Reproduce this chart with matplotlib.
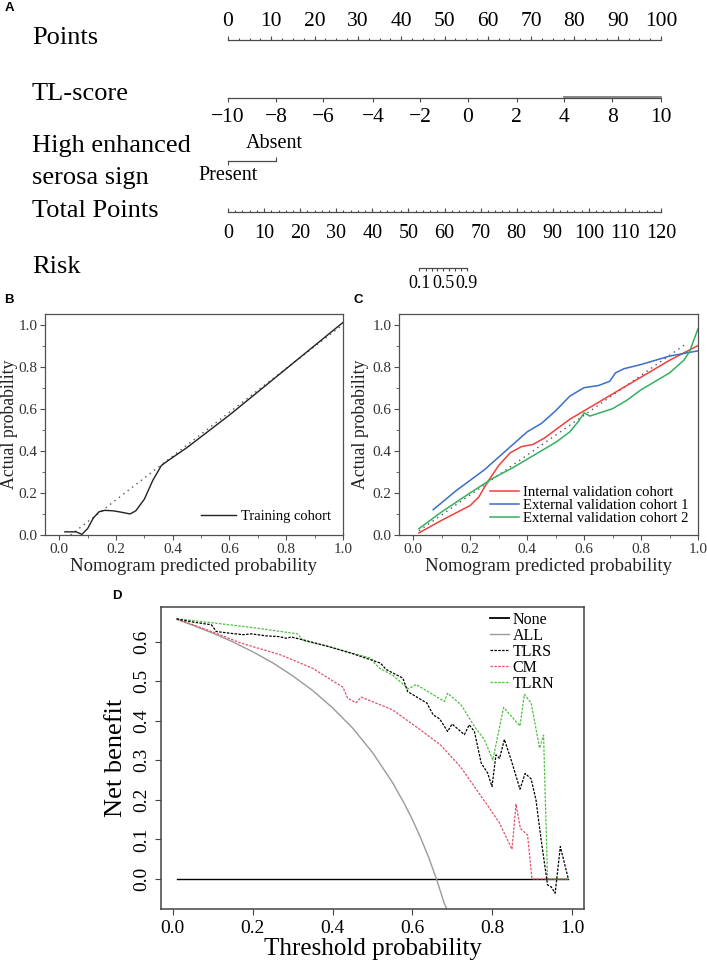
import matplotlib
matplotlib.use("Agg")
import matplotlib.pyplot as plt
import numpy as np
from matplotlib.lines import Line2D

plt.rcParams['font.family'] = ['Liberation Serif', 'DejaVu Serif']

W, H = 707, 965

# ---- nomogram (panel A) ----
points_ticks = list(range(0, 101, 10))
tl_values = ['\u221210', '\u22128', '\u22126', '\u22124', '\u22122', '0', '2', '4', '8', '10']
tl_points = [0, 11.1, 21.9, 33.5, 44.3, 55.4, 66.7, 77.6, 88.7, 100]
serosa_levels = ['Present', 'Absent']
serosa_points = [0, 11.1]
total_ticks = list(range(0, 121, 10))
risk_values = [0.1, 0.2, 0.3, 0.4, 0.5, 0.6, 0.7, 0.8, 0.9]
risk_total = [53.0, 54.9, 56.5, 58.0, 59.7, 61.3, 62.9, 64.6, 66.2]
risk_shown = ['0.1', '0.5', '0.9']

# ---- calibration (panel B) ----
train_x = [0.02, 0.06, 0.08, 0.10, 0.12, 0.14, 0.16, 0.19, 0.22, 0.25, 0.27, 0.30, 0.33, 0.36, 0.38, 0.45, 0.6, 0.8, 1.0]
train_y = [0.015, 0.015, 0.003, 0.03, 0.08, 0.11, 0.117, 0.115, 0.108, 0.10, 0.115, 0.17, 0.26, 0.33, 0.35, 0.415, 0.57, 0.79, 1.01]
ideal_b_x = [0.04, 1.0]
ideal_b_y = [0.0, 1.0]

# ---- calibration (panel C) ----
int_x = [0.02, 0.10, 0.20, 0.23, 0.26, 0.30, 0.34, 0.38, 0.42, 0.46, 0.50, 0.55, 0.60, 0.70, 0.80, 0.90, 1.00]
int_y = [0.01, 0.07, 0.14, 0.18, 0.25, 0.33, 0.39, 0.42, 0.43, 0.46, 0.50, 0.55, 0.59, 0.67, 0.75, 0.83, 0.90]
ext1_x = [0.07, 0.15, 0.25, 0.30, 0.35, 0.40, 0.45, 0.50, 0.55, 0.60, 0.65, 0.69, 0.71, 0.74, 0.80, 0.90, 1.00]
ext1_y = [0.12, 0.21, 0.31, 0.37, 0.43, 0.49, 0.53, 0.59, 0.66, 0.70, 0.71, 0.73, 0.77, 0.79, 0.81, 0.85, 0.875]
ext2_x = [0.02, 0.10, 0.20, 0.28, 0.35, 0.40, 0.45, 0.50, 0.55, 0.58, 0.60, 0.62, 0.70, 0.75, 0.80, 0.85, 0.90, 0.95, 0.97, 1.00]
ext2_y = [0.03, 0.11, 0.20, 0.27, 0.32, 0.36, 0.40, 0.44, 0.49, 0.54, 0.58, 0.565, 0.60, 0.64, 0.69, 0.73, 0.77, 0.83, 0.87, 0.98]
ideal_c_x = [0.02, 0.96]
ideal_c_y = [0.02, 0.91]

# ---- decision curves (panel D) ----
none_x = [0.01, 0.99]
none_y = [0.0, 0.0]
all_x = [0.01, 0.05, 0.10, 0.15, 0.20, 0.25, 0.30, 0.35, 0.40, 0.45, 0.50, 0.55, 0.58, 0.60, 0.62, 0.64, 0.66, 0.68, 0.686]
all_y = [0.657, 0.642, 0.622, 0.600, 0.575, 0.547, 0.514, 0.477, 0.433, 0.382, 0.320, 0.244, 0.190, 0.150, 0.105, 0.056, 0.0, -0.063, -0.076]
tlrs_x = [0.01, 0.05, 0.097, 0.109, 0.14, 0.176, 0.197, 0.234, 0.267, 0.284, 0.297, 0.326, 0.39, 0.45, 0.50, 0.52, 0.534,
          0.576, 0.588, 0.636, 0.652, 0.668, 0.688, 0.699, 0.73, 0.742, 0.755, 0.772, 0.788, 0.799, 0.809, 0.818, 0.83,
          0.847, 0.869, 0.882, 0.897, 0.909, 0.922, 0.938, 0.947, 0.957, 0.97, 0.99]
tlrs_y = [0.658, 0.650, 0.643, 0.626, 0.622, 0.618, 0.620, 0.615, 0.613, 0.609, 0.612, 0.605, 0.588, 0.570, 0.553, 0.546, 0.530,
          0.508, 0.474, 0.445, 0.415, 0.405, 0.373, 0.392, 0.365, 0.390, 0.373, 0.293, 0.268, 0.234, 0.314, 0.305, 0.353,
          0.301, 0.227, 0.267, 0.253, 0.200, 0.099, -0.015, -0.020, -0.036, 0.082, 0.0]
cm_x = [0.01, 0.10, 0.17, 0.27, 0.35, 0.426, 0.438, 0.459, 0.472, 0.55, 0.62, 0.67, 0.72, 0.79, 0.818, 0.849, 0.859,
        0.87, 0.888, 0.899, 0.99]
cm_y = [0.658, 0.625, 0.597, 0.567, 0.533, 0.485, 0.457, 0.446, 0.460, 0.428, 0.377, 0.339, 0.284, 0.183, 0.141, 0.075,
        0.189, 0.128, 0.111, 0.0, 0.0]
tlrn_x = [0.01, 0.10, 0.20, 0.313, 0.326, 0.39, 0.497, 0.505, 0.518, 0.551, 0.59, 0.609, 0.68, 0.688, 0.722, 0.755,
          0.78, 0.801, 0.828, 0.869, 0.88, 0.897, 0.918, 0.928, 0.938, 0.99]
tlrn_y = [0.658, 0.648, 0.636, 0.620, 0.603, 0.588, 0.558, 0.546, 0.533, 0.515, 0.481, 0.492, 0.449, 0.470, 0.440, 0.386,
          0.352, 0.301, 0.434, 0.387, 0.467, 0.445, 0.331, 0.364, 0.0, 0.0]

fig = plt.figure(figsize=(W / 100, H / 100), dpi=100)


def box(l, t, r, b):
    return [l / W, 1 - b / H, (r - l) / W, (b - t) / H]


def letter(x, y, s):
    fig.text(x / W, 1 - y / H, s, family=['Liberation Sans'], weight='bold', fontsize=9.5, va='center')


# ================= A =================
ax = fig.add_axes(box(0, 0, W, 300))
px_per_pt = (661 - 228) / 100
ax.set_xlim(-228 / px_per_pt, (W - 228) / px_per_pt)
ax.set_ylim(300, 0)
ax.axis('off')
lc = '#4a4a4a'
lab_x = (32 - 228) / px_per_pt
row_font = 19
for txt, y in [('Points', 38), ('TL-score', 94), ('High enhanced', 146), ('serosa sign', 178),
               ('Total Points', 211), ('Risk', 267)]:
    ax.text(lab_x, y, txt, fontsize=row_font, va='center', ha='left')

# points
ax.plot([0, 100], [40, 40], color=lc, lw=0.9)
minor = np.arange(0, 100.01, 2.5)
ax.vlines(minor, 38, 40, color=lc, lw=0.8)
ax.vlines(points_ticks, 36, 40, color=lc, lw=0.8)
for v in points_ticks:
    ax.text(v, 22, str(v), fontsize=15.5, ha='center', va='center')

# TL-score
ax.plot([0, 100], [98, 98], color=lc, lw=0.9)
ax.plot([tl_points[7], tl_points[-1]], [97.4, 97.4], color='#666666', lw=1.1)
ax.vlines(tl_points, 98, 102, color=lc, lw=0.8)
for v, p in zip(tl_values, tl_points):
    ax.text(p, 118, v, fontsize=15.5, ha='center', va='center')

# serosa sign
ax.plot(serosa_points, [161, 161], color=lc, lw=0.9)
ax.vlines(serosa_points[0], 161, 165, color=lc, lw=0.8)
ax.vlines(serosa_points[1], 157, 161, color=lc, lw=0.8)
ax.text(serosa_points[1] - 0.5, 144, serosa_levels[1], fontsize=14.5, ha='center', va='center')
ax.text(serosa_points[0], 176, serosa_levels[0], fontsize=14.5, ha='center', va='center')

# total points
tp_scale = 100 / 120
ax.plot([0, 100], [212, 212], color=lc, lw=0.9)
ax.vlines(np.arange(0, 121, 2) * tp_scale, 210, 212, color=lc, lw=0.8)
ax.vlines(np.array(total_ticks) * tp_scale, 208, 212, color=lc, lw=0.8)
for v in total_ticks:
    ax.text(v * tp_scale, 233, str(v), fontsize=14.5, ha='center', va='center')

# risk
rp = np.array(risk_total) * tp_scale
ax.plot([rp[0], rp[-1]], [268, 268], color=lc, lw=0.9)
ax.vlines(rp, 268, 271, color=lc, lw=0.8)
for v, p in zip(risk_values, rp):
    s = '%.1f' % v
    if s in risk_shown:
        ax.text(p, 284, s, fontsize=13, ha='center', va='center')

# ================= B and C =================
spine_c = '#505050'


def calib_axes(rect, ylab_px):
    a = fig.add_axes(rect)
    a.set_xlim(-0.05, 1.0)
    a.set_ylim(0, 1.05)
    a.set_xticks(np.arange(0, 1.01, 0.2))
    a.set_yticks(np.arange(0, 1.01, 0.2))
    a.set_xticks(np.arange(0.1, 1.0, 0.2), minor=True)
    a.set_yticks(np.arange(0.1, 1.0, 0.2), minor=True)
    a.xaxis.set_major_formatter(matplotlib.ticker.FormatStrFormatter('%.1f'))
    a.yaxis.set_major_formatter(matplotlib.ticker.FormatStrFormatter('%.1f'))
    a.tick_params(which='major', direction='out', length=3.5, width=0.8, color=spine_c,
                  labelsize=11, labelcolor='#333333', pad=2)
    a.tick_params(which='minor', direction='out', length=2, width=0.6, color=spine_c)
    for s in a.spines.values():
        s.set_color(spine_c)
        s.set_linewidth(0.9)
    yl = a.set_ylabel('Actual probability', fontsize=12.8, color='#222222')
    yl.set_va('center')
    a.yaxis.set_label_coords(ylab_px / (rect[2] * W), 0.5)
    a.set_xlabel('Nomogram predicted probability', fontsize=13.5, color='#222222', labelpad=2)
    return a


axb = calib_axes(box(45, 314, 343, 535), 10 - 45)
axb.plot(ideal_b_x, ideal_b_y, color='#555555', lw=1.0, ls=(0, (1, 3)))
axb.plot(train_x, train_y, color='#222222', lw=1.0, label='Training cohort')
axb.legend(loc='lower right', frameon=False, fontsize=10.5, handlelength=2.4,
           borderaxespad=0.4, handletextpad=0.4)

axc = calib_axes(box(399, 314, 698, 535), 361 - 399)
axc.plot(ideal_c_x, ideal_c_y, color='#555555', lw=1.0, ls=(0, (1, 3)))
axc.plot(int_x, int_y, color='#f0403c', lw=1.1, label='Internal validation cohort')
axc.plot(ext1_x, ext1_y, color='#3a6ec8', lw=1.1, label='External validation cohort 1')
axc.plot(ext2_x, ext2_y, color='#33b060', lw=1.1, label='External validation cohort 2')
axc.legend(loc='lower right', frameon=False, fontsize=10.6, handlelength=2.0, labelspacing=0.0,
           borderaxespad=0.25, handletextpad=0.25)

# ================= D =================
axd = fig.add_axes(box(161, 607, 584, 909))
axd.set_xlim(-0.0292, 1.0292)
axd.set_ylim(-0.076, 0.688)
dash = (0, (2.0, 1.1))
axd.plot(none_x, none_y, color='black', lw=1.0, label='None')
axd.plot(all_x, all_y, color='#9a9a9a', lw=1.0, label='ALL')
axd.plot(cm_x, cm_y, color='#df536b', lw=0.9, ls=dash, label='CM')
axd.plot(tlrn_x, tlrn_y, color='#4fc040', lw=0.9, ls=dash, label='TLRN')
axd.plot(tlrs_x, tlrs_y, color='black', lw=0.9, ls=dash, label='TLRS')
axd.set_xticks(np.arange(0, 1.01, 0.2))
axd.set_yticks(np.arange(0, 0.61, 0.1))
axd.xaxis.set_major_formatter(matplotlib.ticker.FormatStrFormatter('%.1f'))
axd.yaxis.set_major_formatter(matplotlib.ticker.FormatStrFormatter('%.1f'))
axd.tick_params(direction='out', length=4, width=0.8, color='#444444', labelsize=14, pad=4)
for lbl in axd.get_yticklabels():
    lbl.set_rotation(90)
    lbl.set_va('center')
for s in axd.spines.values():
    s.set_color('#444444')
    s.set_linewidth(1.1)
axd.set_xlabel('Threshold probability', fontsize=18, labelpad=1)
axd.set_ylabel('Net benefit', fontsize=19, labelpad=4)
h = [Line2D([], [], color='black', lw=1.3),
     Line2D([], [], color='#9a9a9a', lw=1.0),
     Line2D([], [], color='black', lw=0.9, ls=dash),
     Line2D([], [], color='#df536b', lw=0.9, ls=dash),
     Line2D([], [], color='#4fc040', lw=0.9, ls=dash)]
axd.legend(h, ['None', 'ALL', 'TLRS', 'CM', 'TLRN'], loc='upper right', bbox_to_anchor=(0.952, 1.015),
           frameon=False, fontsize=11.5, handlelength=1.2, labelspacing=0.0, handletextpad=0.2, borderaxespad=0.2)

letter(5, 8, 'A')
letter(4, 300, 'B')
letter(354, 300, 'C')
letter(112, 596, 'D')

fig.savefig('out.png', dpi=100)
